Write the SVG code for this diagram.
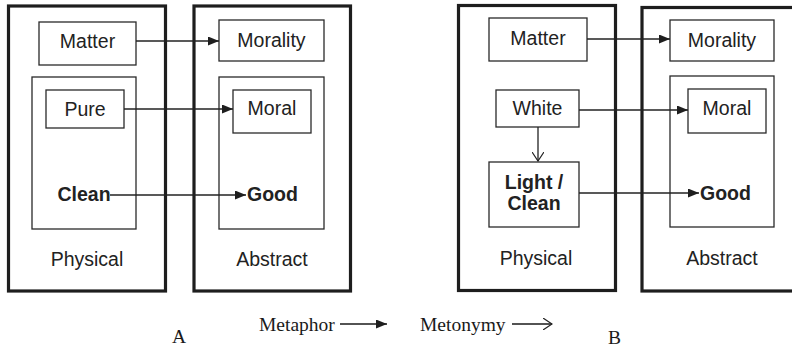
<svg xmlns="http://www.w3.org/2000/svg" width="792" height="347" viewBox="0 0 792 347">
<defs>
<style>
.outer{fill:none;stroke:#1e1e1e;stroke-width:3.2}
.box{fill:#fff;stroke:#2a2a2a;stroke-width:1.3}
.inner{fill:none;stroke:#2a2a2a;stroke-width:1.3}
.t{font-family:"Liberation Sans",Arial,sans-serif;font-size:19.5px;fill:#222;text-anchor:middle}
.b{font-weight:bold}
.s{font-family:"Liberation Serif","Times New Roman",serif;font-size:19.5px;fill:#1a1a1a}
.c{fill:none;stroke:#222;stroke-width:1.3}
</style>
<marker id="ah" viewBox="0 0 11 9" refX="11" refY="4.5" markerWidth="11" markerHeight="9" markerUnits="userSpaceOnUse" orient="auto">
<path d="M0,0 L11,4.5 L0,9 Z" fill="#1e1e1e"/>
</marker>
<marker id="ov" viewBox="0 0 10 12" refX="9" refY="6" markerWidth="10" markerHeight="12" markerUnits="userSpaceOnUse" orient="auto">
<path d="M0,0 L9,6 L0,12" fill="none" stroke="#222" stroke-width="1.2"/>
</marker>
</defs>
<rect width="792" height="347" fill="#fff"/>

<g id="A-physical">
<rect class="outer" x="8.5" y="6" width="157" height="285"/>
<text class="t" x="87" y="266">Physical</text>
</g>
<g id="A-abstract">
<rect class="outer" x="194" y="6" width="156.5" height="285"/>
<text class="t" x="272" y="266">Abstract</text>
</g>
<g id="A-matter">
<rect class="box" x="39" y="22" width="97" height="43"/>
<text class="t" x="87.5" y="48">Matter</text>
</g>
<g id="A-morality">
<rect class="box" x="219" y="20" width="105" height="41"/>
<text class="t" x="271.5" y="47">Morality</text>
</g>
<g id="A-phys-inner">
<rect class="inner" x="32" y="77" width="104" height="152"/>
</g>
<g id="A-abs-inner">
<rect class="inner" x="219" y="77" width="105" height="152"/>
</g>
<g id="A-pure">
<rect class="box" x="46" y="90" width="78" height="38"/>
<text class="t" x="85" y="116">Pure</text>
</g>
<g id="A-moral">
<rect class="box" x="233" y="90" width="78" height="43"/>
<text class="t" x="272" y="115">Moral</text>
</g>
<g id="A-clean">
<text class="t b" x="84" y="201">Clean</text>
</g>
<g id="A-good">
<text class="t b" x="247" y="201" style="text-anchor:start">Good</text>
</g>

<g id="B-physical">
<rect class="outer" x="458.5" y="5.5" width="157" height="285"/>
<text class="t" x="536" y="265">Physical</text>
</g>
<g id="B-abstract">
<rect class="outer" x="642" y="7.5" width="160" height="283.5"/>
<text class="t" x="722" y="265">Abstract</text>
</g>
<g id="B-matter">
<rect class="box" x="489" y="18" width="98" height="43"/>
<text class="t" x="538" y="45">Matter</text>
</g>
<g id="B-morality">
<rect class="box" x="670" y="20" width="104" height="41"/>
<text class="t" x="722" y="47">Morality</text>
</g>
<g id="B-abs-inner">
<rect class="inner" x="670" y="76" width="104" height="151"/>
</g>
<g id="B-white">
<rect class="box" x="496" y="90" width="83" height="37"/>
<text class="t" x="537.5" y="115">White</text>
</g>
<g id="B-moral">
<rect class="box" x="688" y="89" width="78" height="44"/>
<text class="t" x="727" y="115">Moral</text>
</g>
<g id="B-lightclean">
<rect class="box" x="489" y="162" width="90" height="65"/>
<text class="t b" x="534" y="189">Light /</text>
<text class="t b" x="534" y="210">Clean</text>
</g>
<g id="B-good">
<text class="t b" x="700" y="200" style="text-anchor:start">Good</text>
</g>

<g id="connectors">
<line class="c" x1="136" y1="41" x2="219" y2="41" marker-end="url(#ah)"/>
<line class="c" x1="124" y1="109" x2="233" y2="109" marker-end="url(#ah)"/>
<line class="c" x1="110" y1="195" x2="246" y2="195" marker-end="url(#ah)"/>
<line class="c" x1="587" y1="39" x2="670" y2="39" marker-end="url(#ah)"/>
<line class="c" x1="579" y1="110" x2="688" y2="110" marker-end="url(#ah)"/>
<line class="c" x1="579" y1="193" x2="699" y2="193" marker-end="url(#ah)"/>
<line class="c" x1="538" y1="127" x2="538" y2="161" marker-end="url(#ov)"/>
</g>

<g id="legend">
<text class="s" x="172" y="343">A</text>
<text class="s" x="259" y="331">Metaphor</text>
<line x1="340" y1="324" x2="387" y2="324" stroke="#1a1a1a" stroke-width="1.6" marker-end="url(#ah)"/>
<text class="s" x="420" y="331">Metonymy</text>
<line x1="512" y1="324" x2="552" y2="324" stroke="#1a1a1a" stroke-width="1.3" marker-end="url(#ov)"/>
<text class="s" x="608" y="344">B</text>
</g>
</svg>
